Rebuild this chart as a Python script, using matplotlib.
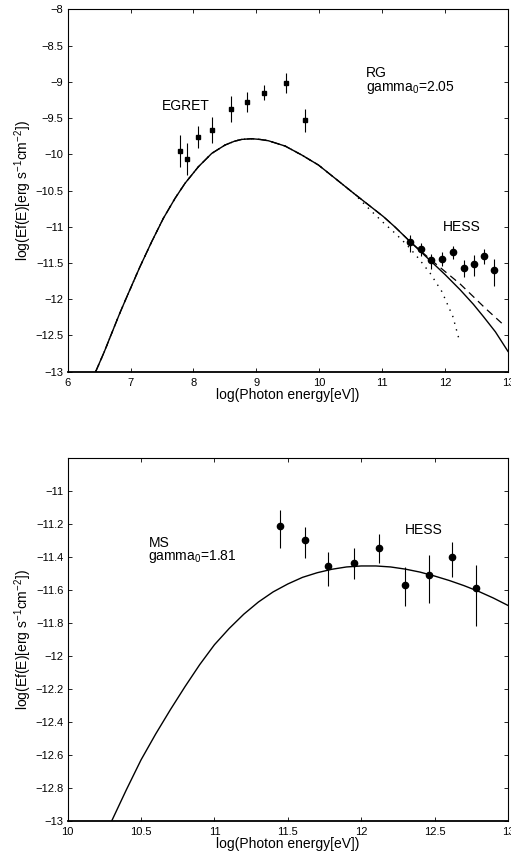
import numpy as np
import matplotlib
matplotlib.use("Agg")
import matplotlib.pyplot as plt
from matplotlib.ticker import FuncFormatter

plt.rcParams['font.family'] = ['Liberation Sans', 'DejaVu Sans']
plt.rcParams['mathtext.default'] = 'regular'

# ---- top panel (RG) ----
rg_x = [6.445, 6.58, 6.70, 6.83, 6.965, 7.15, 7.336, 7.521, 7.707, 7.866, 8.078,
        8.291, 8.502, 8.65, 8.768, 8.927, 9.06, 9.192, 9.457, 9.722, 9.987,
        10.252, 10.55, 10.8, 11.02, 11.2, 11.445, 11.78, 12.0, 12.24, 12.45,
        12.61, 12.8, 13.0]
rg_solid = [-13.0, -12.73, -12.47, -12.19, -11.918, -11.551, -11.206, -10.884,
            -10.608, -10.40, -10.172, -9.987, -9.872, -9.82, -9.794, -9.785,
            -9.795, -9.813, -9.886, -10.01, -10.148, -10.332, -10.54, -10.71,
            -10.86, -11.0, -11.206, -11.48, -11.66, -11.87, -12.07, -12.24,
            -12.45, -12.72]

dash_x = rg_x[:27] + [11.78, 11.975, 12.24, 12.45, 12.64, 12.9]
dash_y = rg_solid[:27] + [-11.46, -11.60, -11.79, -11.965, -12.125, -12.33]

dot_x = rg_x[:23] + [10.8, 11.02, 11.206, 11.393, 11.577, 11.764, 11.95,
                     12.124, 12.225]
dot_y = rg_solid[:23] + [-10.76, -10.944, -11.09, -11.25, -11.435, -11.643,
                         -11.896, -12.24, -12.563]

egret_x = [7.78, 7.90, 8.08, 8.30, 8.59, 8.85, 9.12, 9.47, 9.78]
egret_y = [-9.95, -10.07, -9.76, -9.67, -9.37, -9.28, -9.15, -9.02, -9.53]
egret_err = [0.22, 0.22, 0.15, 0.18, 0.18, 0.14, 0.10, 0.14, 0.16]

hess_x = [11.448, 11.618, 11.777, 11.95, 12.118, 12.30, 12.459, 12.62, 12.78]
hess_y = [-11.215, -11.30, -11.455, -11.44, -11.345, -11.57, -11.51, -11.40, -11.59]
hess_up = [0.10, 0.08, 0.085, 0.09, 0.085, 0.11, 0.12, 0.09, 0.14]
hess_lo = [0.135, 0.11, 0.125, 0.095, 0.095, 0.13, 0.17, 0.12, 0.23]

# ---- bottom panel (MS) ----
ms_x = [10.3, 10.4, 10.5, 10.6, 10.7, 10.8, 10.9, 11.0, 11.1, 11.2, 11.3,
        11.4, 11.5, 11.6, 11.7, 11.8, 11.9, 12.0, 12.1, 12.2, 12.3, 12.4, 12.5,
        12.6, 12.7, 12.8, 12.9, 13.0]
ms_y = [-13.0, -12.811, -12.63, -12.473, -12.326, -12.186, -12.053, -11.933,
        -11.835, -11.748, -11.674, -11.613, -11.565, -11.525, -11.497, -11.476,
        -11.462, -11.456, -11.456, -11.462, -11.475, -11.493, -11.517, -11.544,
        -11.575, -11.61, -11.65, -11.695]


def fmt(v, pos):
    return ('%g' % round(v, 3)).replace('-', '\u2212')


fig = plt.figure(figsize=(5.11, 8.61), dpi=100)
ax1 = fig.add_axes([0.1324, 0.5683, 0.8617, 0.4208])
ax2 = fig.add_axes([0.1324, 0.0465, 0.8617, 0.4220])

for ax in (ax1, ax2):
    ax.tick_params(direction='in', top=True, right=True, length=3, width=0.6,
                   labelsize=8)
    ax.tick_params(axis='x', pad=4.5)
    ax.tick_params(axis='y', pad=3)
    for s in ax.spines.values():
        s.set_linewidth(0.8)
    ax.spines['bottom'].set_linewidth(1.3)
    ax.set_xlabel('log(Photon energy[eV])', fontsize=10, labelpad=0)
    ax.set_ylabel('log(Ef(E)[erg s$^{-1}$cm$^{-2}$])', fontsize=10, labelpad=1)
    ax.yaxis.set_major_formatter(FuncFormatter(fmt))
    ax.xaxis.set_major_formatter(FuncFormatter(fmt))

# top
ax1.plot(dot_x, dot_y, color='black', lw=1.0, linestyle=(0, (1, 4)))
ax1.plot(dash_x, dash_y, color='black', lw=0.9, linestyle=(0, (6, 4)))
ax1.plot(rg_x, rg_solid, color='black', lw=1.0)
ax1.errorbar(egret_x, egret_y, yerr=egret_err, fmt='s', color='black',
             ms=3.2, elinewidth=0.8, capsize=0)
ax1.errorbar(hess_x, hess_y, yerr=[hess_lo, hess_up], fmt='o', color='black',
             ms=4.5, elinewidth=0.8, capsize=0)
ax1.set_xlim(6, 13)
ax1.set_ylim(-13, -8)
ax1.set_xticks(np.arange(6, 13.5, 1))
ax1.set_yticks(np.arange(-13, -7.9, 0.5))
ax1.text(7.5, -9.34, 'EGRET', fontsize=10, va='center', ha='left')
ax1.text(10.74, -8.88, 'RG', fontsize=10, va='center', ha='left')
ax1.text(10.74, -9.08, 'gamma$_0$=2.05', fontsize=10, va='center', ha='left')
ax1.text(11.96, -11.0, 'HESS', fontsize=10, va='center', ha='left')

# bottom
ax2.plot(ms_x, ms_y, color='black', lw=1.0)
ax2.errorbar(hess_x, hess_y, yerr=[hess_lo, hess_up], fmt='o', color='black',
             ms=4.5, elinewidth=0.8, capsize=0)
ax2.set_xlim(10, 13)
ax2.set_ylim(-13, -10.8)
ax2.set_xticks(np.arange(10, 13.1, 0.5))
ax2.set_yticks(np.arange(-13, -10.95, 0.2))
ax2.text(10.55, -11.315, 'MS', fontsize=10, va='center', ha='left')
ax2.text(10.55, -11.40, 'gamma$_0$=1.81', fontsize=10, va='center', ha='left')
ax2.text(12.30, -11.24, 'HESS', fontsize=10, va='center', ha='left')

fig.savefig('out.png', dpi=100)
